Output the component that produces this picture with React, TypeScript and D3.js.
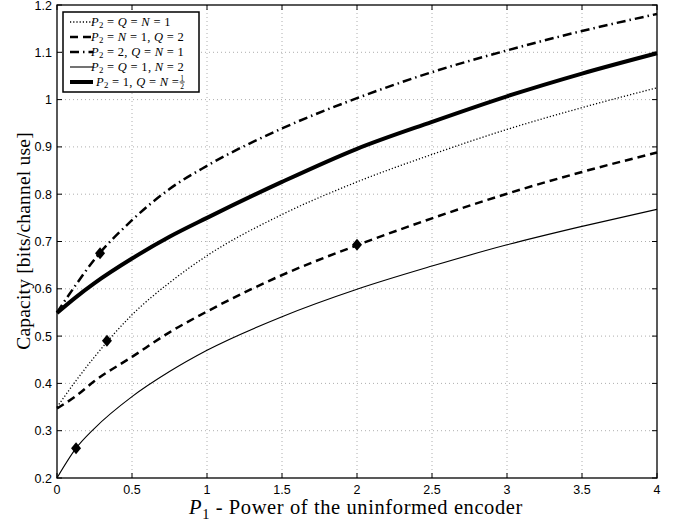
import React, { useEffect, useRef } from 'react';
import * as d3 from 'd3';

const W = 683;
const H = 522;

// P1 sample points shared by all curves
const p1 = [0, 0.125, 0.25, 0.5, 0.75, 1, 1.5, 2, 2.5, 3, 3.5, 4];

// capacity values
const capQN1 = [0.35, 0.405, 0.456, 0.545, 0.613, 0.670, 0.757, 0.826, 0.884, 0.937, 0.983, 1.025];
const capQ2 = [0.347, 0.373, 0.405, 0.456, 0.508, 0.552, 0.629, 0.692, 0.749, 0.801, 0.847, 0.888];
const capP2 = [0.55, 0.608, 0.662, 0.745, 0.811, 0.860, 0.939, 1.003, 1.058, 1.104, 1.145, 1.181];
const capN2 = [0.2, 0.262, 0.305, 0.372, 0.425, 0.470, 0.541, 0.599, 0.648, 0.693, 0.732, 0.768];
const capHalf = [0.549, 0.582, 0.612, 0.664, 0.710, 0.750, 0.826, 0.896, 0.953, 1.007, 1.055, 1.098];

// diamond markers
const markX = [0.127, 0.333, 0.287, 2];
const markY = [0.263, 0.49, 0.675, 0.693];

const xTicks = [0, 0.5, 1, 1.5, 2, 2.5, 3, 3.5, 4];
const xTickLabels = ['0', '0.5', '1', '1.5', '2', '2.5', '3', '3.5', '4'];
const yTicks = [0.2, 0.3, 0.4, 0.5, 0.6, 0.7, 0.8, 0.9, 1, 1.1, 1.2];
const yTickLabels = ['0.2', '0.3', '0.4', '0.5', '0.6', '0.7', '0.8', '0.9', '1', '1.1', '1.2'];

// legend labels: [text, style] i = italic, s = subscript, n = normal
const legendLabels = [
    [['P', 'i'], ['2', 's'], [' = ', 'n'], ['Q', 'i'], [' = ', 'n'], ['N', 'i'], [' = 1', 'n']],
    [['P', 'i'], ['2', 's'], [' = ', 'n'], ['N', 'i'], [' = 1, ', 'n'], ['Q', 'i'], [' = 2', 'n']],
    [['P', 'i'], ['2', 's'], [' = 2, ', 'n'], ['Q', 'i'], [' = ', 'n'], ['N', 'i'], [' = 1', 'n']],
    [['P', 'i'], ['2', 's'], [' = ', 'n'], ['Q', 'i'], [' = 1, ', 'n'], ['N', 'i'], [' = 2', 'n']],
    [['P', 'i'], ['2', 's'], [' = 1, ', 'n'], ['Q', 'i'], [' = ', 'n'], ['N', 'i'], [' = ', 'n']]
];

const serif = '"Liberation Serif", "Times New Roman", serif';
const sans = '"Liberation Sans", Arial, sans-serif';

function addMath(sel, parts, size) {
    let shifted = false;
    parts.forEach(([t, s]) => {
        const ts = sel.append('tspan').text(t);
        if (s === 'i') ts.attr('font-style', 'italic');
        if (s === 's') {
            ts.attr('font-size', size * 0.7).attr('dy', size * 0.22);
            shifted = true;
        } else if (shifted) {
            ts.attr('dy', -size * 0.22);
            shifted = false;
        }
    });
}

export default function App() {
    const ref = useRef(null);

    useEffect(() => {
        const svg = d3.select(ref.current);
        svg.selectAll('*').remove();

        const x = d3.scaleLinear().domain([0, 4]).range([57, 657]);
        const y = d3.scaleLinear().domain([0.2, 1.2]).range([478, 5]);

        svg.append('rect').attr('width', W).attr('height', H).attr('fill', '#fff');

        // grid
        const grid = svg.append('g').attr('stroke', '#999').attr('stroke-width', 0.8).attr('stroke-dasharray', '1,3');
        xTicks.slice(1, -1).forEach(t => {
            grid.append('line').attr('x1', x(t)).attr('x2', x(t)).attr('y1', y(0.2)).attr('y2', y(1.2));
        });
        yTicks.slice(1, -1).forEach(t => {
            grid.append('line').attr('y1', y(t)).attr('y2', y(t)).attr('x1', x(0)).attr('x2', x(4));
        });

        // curves
        const series = [
            { v: capQN1, w: 1.3, dash: '1.2,2' },
            { v: capQ2, w: 2.5, dash: '8,5' },
            { v: capP2, w: 2.5, dash: '9,4,1.5,4' },
            { v: capN2, w: 1.1, dash: null },
            { v: capHalf, w: 4, dash: null }
        ];
        const line = d3.line().x(d => x(d[0])).y(d => y(d[1])).curve(d3.curveMonotoneX);
        series.forEach(s => {
            svg.append('path')
                .attr('d', line(p1.map((p, i) => [p, s.v[i]])))
                .attr('fill', 'none')
                .attr('stroke', '#000')
                .attr('stroke-width', s.w)
                .attr('stroke-dasharray', s.dash);
        });

        svg.selectAll('.mark')
            .data(markX)
            .enter()
            .append('path')
            .attr('d', 'M0,-6L5,0L0,6L-5,0Z')
            .attr('transform', (d, i) => `translate(${x(d)},${y(markY[i])})`)
            .attr('fill', '#000');

        // frame + ticks
        svg.append('rect')
            .attr('x', x(0)).attr('y', y(1.2))
            .attr('width', x(4) - x(0)).attr('height', y(0.2) - y(1.2))
            .attr('fill', 'none').attr('stroke', '#000').attr('stroke-width', 1.3);
        const tk = svg.append('g').attr('stroke', '#000').attr('stroke-width', 1);
        xTicks.forEach(t => {
            tk.append('line').attr('x1', x(t)).attr('x2', x(t)).attr('y1', y(0.2)).attr('y2', y(0.2) - 5);
            tk.append('line').attr('x1', x(t)).attr('x2', x(t)).attr('y1', y(1.2)).attr('y2', y(1.2) + 5);
        });
        yTicks.forEach(t => {
            tk.append('line').attr('y1', y(t)).attr('y2', y(t)).attr('x1', x(0)).attr('x2', x(0) + 5);
            tk.append('line').attr('y1', y(t)).attr('y2', y(t)).attr('x1', x(4)).attr('x2', x(4) - 5);
        });

        svg.selectAll('.xt')
            .data(xTicks)
            .enter()
            .append('text')
            .attr('x', d => x(d))
            .attr('y', 494)
            .attr('text-anchor', 'middle')
            .attr('font-family', sans)
            .attr('font-size', 12.5)
            .text((d, i) => xTickLabels[i]);
        svg.selectAll('.yt')
            .data(yTicks)
            .enter()
            .append('text')
            .attr('x', 52)
            .attr('y', d => Math.max(y(d) + 4.5, 10))
            .attr('text-anchor', 'end')
            .attr('font-family', sans)
            .attr('font-size', 12.5)
            .text((d, i) => yTickLabels[i]);

        // axis labels
        const xl = svg.append('text')
            .attr('x', 356).attr('y', 514)
            .attr('text-anchor', 'middle')
            .attr('font-family', serif)
            .attr('font-size', 20.5)
            .attr('letter-spacing', 0.6);
        addMath(xl, [['P', 'i'], ['1', 's'], [' - Power of the uninformed encoder', 'n']], 20.5);

        svg.append('text')
            .attr('transform', 'translate(30,241) rotate(-90)')
            .attr('text-anchor', 'middle')
            .attr('font-family', serif)
            .attr('font-size', 19.5)
            .attr('letter-spacing', 0.2)
            .text('Capacity [bits/channel use]');

        // legend
        const lg = svg.append('g');
        lg.append('rect')
            .attr('x', 63).attr('y', 12).attr('width', 136).attr('height', 80)
            .attr('fill', '#fff').attr('stroke', '#000').attr('stroke-width', 1.5);
        series.forEach((s, i) => {
            const ry = 22 + i * 15;
            lg.append('line')
                .attr('x1', 70).attr('x2', 93).attr('y1', ry).attr('y2', ry)
                .attr('stroke', '#000').attr('stroke-width', s.w)
                .attr('stroke-dasharray', s.dash);
            const t = lg.append('text')
                .attr('x', i === 4 ? 96 : 91).attr('y', ry + 3.5)
                .attr('font-family', serif)
                .attr('font-size', 12.5)
                .attr('letter-spacing', 0.3);
            addMath(t, legendLabels[i], 12.5);
            if (i === 4) {
                const bb = t.node().getBBox();
                const fx = bb.x + bb.width + 3;
                lg.append('text').attr('x', fx).attr('y', ry - 1).attr('text-anchor', 'middle')
                    .attr('font-family', serif).attr('font-size', 7.5).text('1');
                lg.append('line').attr('x1', fx - 2.5).attr('x2', fx + 2.5).attr('y1', ry).attr('y2', ry)
                    .attr('stroke', '#000').attr('stroke-width', 0.8);
                lg.append('text').attr('x', fx).attr('y', ry + 6.5).attr('text-anchor', 'middle')
                    .attr('font-family', serif).attr('font-size', 7.5).text('2');
            }
        });
    }, []);

    return (
        <svg ref={ref} width={W} height={H} style={{ position: 'absolute', left: 0, top: 0 }} />
    );
}
